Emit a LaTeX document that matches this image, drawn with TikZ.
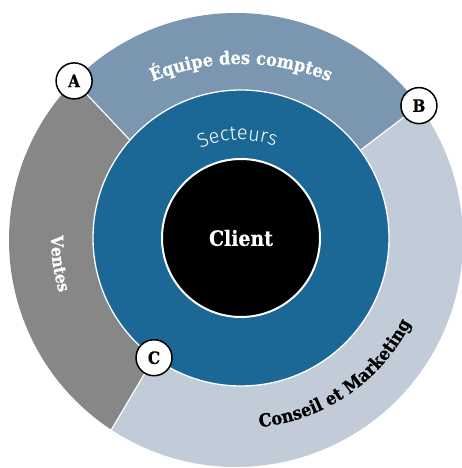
\documentclass[tikz,border=0pt]{standalone}
\usepackage{fontspec}
\setmainfont{DejaVu Serif}
\newfontfamily\slab{DejaVu Serif}[FakeStretch=0.9, BoldFeatures={FakeBold=0.6}]
\newfontfamily\lightsans{Fira Sans}[UprightFont={* Light}]
\usetikzlibrary{decorations.text}
\definecolor{equipecol}{HTML}{7A96B1}
\definecolor{ventescol}{HTML}{878787}
\definecolor{conseilcol}{HTML}{C2CCD8}
\definecolor{secteurscol}{HTML}{1B6896}
\tikzset{
  divider/.style={draw=white, line width=1.2pt},
  letterbox/.style={circle, fill=white, draw=black, line width=1.5pt, minimum size=36pt, inner sep=0pt,
    font=\slab\bfseries\fontsize{17}{17}\selectfont},
  clientbox/.style={circle, fill=black, draw=white, line width=2pt, minimum size=158pt, inner sep=0pt,
    text=white, font=\slab\bfseries\fontsize{21}{21}\selectfont}
}
\begin{document}
\begin{tikzpicture}[x=1pt,y=1pt]
\useasboundingbox (-241,-230) rectangle (221,238);
\clip (-241,-230) rectangle (221,238);
\coordinate (O) at (0,0);
\coordinate (O2) at (-5,-2);
\coordinate (T1) at (0,-59);
\coordinate (Ao) at ([shift={(135.5:227)}]O2);
\coordinate (Bo) at ([shift={(36.3:227)}]O2);
\coordinate (Co) at ([shift={(236.7:227)}]O2);
\coordinate (Ai) at (138.6:148);
\coordinate (Bi) at (36.3:148);
\coordinate (Ci) at (234:148);
% outer segments
\fill[equipecol] (O) -- (Ai) -- (Ao) arc[start angle=135.5, end angle=36.3, radius=227] -- (Bi) -- cycle;
\fill[ventescol] (O) -- (Ai) -- (Ao) arc[start angle=135.5, end angle=236.7, radius=227] -- (Ci) -- cycle;
\fill[conseilcol] (O) -- (Ci) -- (Co) arc[start angle=236.7, end angle=396.3, radius=227] -- (Bi) -- cycle;
\draw[divider] (Ai) -- (Ao);
\draw[divider] (Bi) -- (Bo);
\draw[divider] (Ci) -- (Co);
% secteurs ring
\fill[secteurscol] (O) circle (148);
\draw[white, line width=1.3pt] (O) circle (148);
% client
\node[clientbox] (client) at (O) {Client};
% curved labels
\path[decorate, decoration={text along path, text align=center,
  text={|\slab\bfseries\fontsize{18}{18}\selectfont\color{white}|Équipe des comptes}}]
  ([shift={(140:233)}]T1) arc[start angle=140, end angle=40, radius=233];
\path[decorate, decoration={text along path, text align=center,
  text={|\slab\bfseries\fontsize{18}{18}\selectfont\color{black}|Conseil et Marketing}}]
  (-100:190) arc[start angle=-100, end angle=-11, radius=190];
\path[decorate, decoration={text along path, text align=center,
  text={|\slab\bfseries\fontsize{17}{17}\selectfont\color{white}|Ventes}}]
  (160:190) arc[start angle=160, end angle=216, radius=190];
\path[decorate, decoration={text along path, text align=center,
  text={|\lightsans\fontsize{20}{20}\selectfont\color{white}|Secteurs}}]
  (152:98) arc[start angle=152, end angle=32, radius=98];
% letter markers
\node[letterbox] (A) at (Ao) {A};
\node[letterbox] (B) at (Bo) {B};
\node[letterbox] (C) at (Ci) {C};
\end{tikzpicture}
\end{document}
